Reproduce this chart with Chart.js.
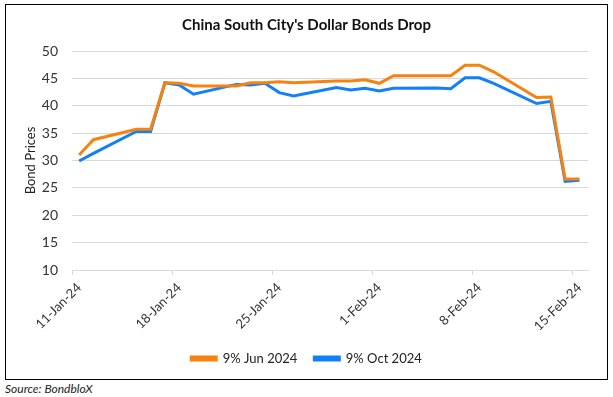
<!DOCTYPE html>
<html>
<head>
<meta charset="utf-8">
<script src="https://cdn.jsdelivr.net/npm/chart.js@4.4.1/dist/chart.umd.min.js"></script>
<style>
  html, body { margin: 0; padding: 0; background: #fff; }
  #frame {
    position: absolute; left: 5px; top: 4px;
    width: 601px; height: 374px;
    border: 1px solid #000;
  }
  #source {
    position: absolute; left: 5px; top: 381px;
    font: italic 12px Lato, sans-serif; color: #222;
  }
</style>
</head>
<body>
<div id="frame"><canvas id="bondChart" width="601" height="374"></canvas></div>
<div id="source">Source: BondbloX</div>
<script>
const dates = [
    '2024-01-11', '2024-01-12', '2024-01-15', '2024-01-16', '2024-01-17', '2024-01-18', '2024-01-19',
    '2024-01-22', '2024-01-23', '2024-01-24', '2024-01-25', '2024-01-26',
    '2024-01-29', '2024-01-30', '2024-01-31', '2024-02-01', '2024-02-02',
    '2024-02-05', '2024-02-06', '2024-02-07', '2024-02-08', '2024-02-09',
    '2024-02-12', '2024-02-13', '2024-02-14', '2024-02-15'
];
const jun2024 = [
    31.0, 33.8, 35.7, 35.7, 44.2, 44.1, 43.6,
    43.6, 44.2, 44.2, 44.4, 44.2,
    44.5, 44.5, 44.75, 44.1, 45.5,
    45.5, 45.5, 47.4, 47.4, 46.2,
    41.5, 41.6, 26.6, 26.6
];
const oct2024 = [
    29.9, 31.3, 35.3, 35.3, 44.2, 43.8, 42.1,
    43.9, 43.8, 44.1, 42.4, 41.8,
    43.35, 42.9, 43.2, 42.7, 43.2,
    43.25, 43.1, 45.1, 45.1, 44.1,
    40.4, 40.8, 26.2, 26.4
];
const tickLabels = ['11-Jan-24', '18-Jan-24', '25-Jan-24', '1-Feb-24', '8-Feb-24', '15-Feb-24'];
const yTicks = [10, 15, 20, 25, 30, 35, 40, 45, 50];

const startDay = Date.UTC(2024, 0, 11);
function dayIndex(s) {
    const p = s.split('-');
    return (Date.UTC(+p[0], +p[1] - 1, +p[2]) - startDay) / 86400000;
}
function toPoints(values) {
    return dates.map((d, i) => ({ x: dayIndex(d), y: values[i] }));
}

const ctx = document.getElementById('bondChart').getContext('2d');
const font = 'Lato';
const grey = '#d9d9d9';

new Chart(ctx, {
    type: 'line',
    data: {
        datasets: [{
            label: '9% Jun 2024',
            data: toPoints(jun2024),
            borderColor: '#f8820f',
            backgroundColor: '#f8820f',
            borderWidth: 3,
            pointRadius: 0,
            tension: 0
        }, {
            label: '9% Oct 2024',
            data: toPoints(oct2024),
            borderColor: '#1380f8',
            backgroundColor: '#1380f8',
            borderWidth: 3,
            pointRadius: 0,
            tension: 0
        }]
    },
    options: {
        responsive: false,
        animation: false,
        layout: { padding: { left: 0, right: 0, top: 0, bottom: 4 } },
        plugins: {
            title: {
                display: true,
                text: "China South City's Dollar Bonds Drop",
                color: '#111',
                font: { family: font, size: 15, weight: 'bold' },
                padding: { top: 11, bottom: 17 }
            },
            legend: {
                position: 'bottom',
                labels: {
                    color: '#222',
                    font: { family: font, size: 13 },
                    boxWidth: 25,
                    boxHeight: 3,
                    padding: 17
                }
            },
            tooltip: { enabled: false }
        },
        scales: {
            x: {
                type: 'linear',
                min: -0.5,
                max: 35.6,
                afterBuildTicks: function (scale) {
                    scale.ticks = tickLabels.map((t, i) => ({ value: -0.5 + 7 * i }));
                },
                afterFit: function (scale) { scale.height = 65; },
                grid: {
                    drawOnChartArea: false,
                    color: grey,
                    tickLength: 5
                },
                border: { color: grey },
                ticks: {
                    autoSkip: false,
                    maxRotation: 45,
                    minRotation: 45,
                    labelOffset: 7,
                    padding: 5,
                    color: '#333',
                    font: { family: font, size: 13 },
                    callback: function (value, index) { return tickLabels[index]; }
                }
            },
            y: {
                min: 10,
                max: 50,
                afterBuildTicks: function (scale) {
                    scale.ticks = yTicks.map(v => ({ value: v }));
                },
                afterFit: function (scale) { scale.width = 66; },
                grid: { color: grey, drawTicks: false },
                border: { display: false },
                title: {
                    display: true,
                    text: 'Bond Prices',
                    color: '#222',
                    font: { family: font, size: 13 },
                    padding: { top: 17, bottom: 0 }
                },
                ticks: {
                    padding: 14,
                    color: '#333',
                    font: { family: font, size: 14 }
                }
            },
            // empty right-hand margin, so title and legend centre on the full frame
            spacer: {
                position: 'right',
                afterFit: function (scale) { scale.width = 19; },
                grid: { display: false },
                border: { display: false },
                ticks: { display: false }
            }
        }
    }
});
</script>
</body>
</html>
